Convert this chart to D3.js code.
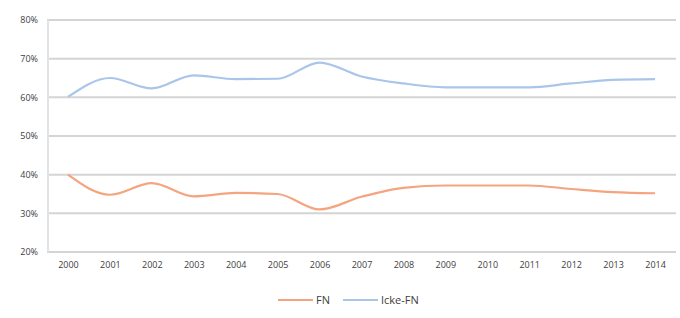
<!DOCTYPE html>
<html>
<head>
<meta charset="utf-8">
<script src="https://cdn.jsdelivr.net/npm/d3@7"></script>
<style>
  body { margin: 0; background: #fff; }
  text { font-family: "Open Sans", "Liberation Sans", sans-serif; }
</style>
</head>
<body>
<div id="chart"></div>
<script>
const years = ["2000","2001","2002","2003","2004","2005","2006","2007","2008","2009","2010","2011","2012","2013","2014"];
const fn = [40.0, 34.8, 37.8, 34.4, 35.3, 35.0, 31.0, 34.3, 36.6, 37.2, 37.2, 37.2, 36.3, 35.5, 35.2];
const ickeFn = [60.1, 65.0, 62.3, 65.7, 64.7, 64.8, 69.0, 65.4, 63.6, 62.6, 62.6, 62.6, 63.6, 64.5, 64.7];
const yTicks = [20, 30, 40, 50, 60, 70, 80];

const width = 680;
const height = 318;
const margin = { top: 20, right: 4, bottom: 66, left: 47 };

const svg = d3.select("#chart")
  .append("svg")
  .attr("width", width)
  .attr("height", height);

const x = d3.scalePoint()
  .domain(years)
  .range([margin.left, width - margin.right])
  .padding(0.5);

const y = d3.scaleLinear()
  .domain([20, 80])
  .range([height - margin.bottom, margin.top]);

// gridlines
svg.append("g")
  .selectAll("line")
  .data(yTicks)
  .enter()
  .append("line")
  .attr("x1", margin.left)
  .attr("x2", width - margin.right)
  .attr("y1", d => y(d))
  .attr("y2", d => y(d))
  .style("stroke", "#d4d4d4")
  .style("stroke-width", 2);

// vertical axis line
svg.append("line")
  .attr("x1", margin.left + 1)
  .attr("x2", margin.left + 1)
  .attr("y1", margin.top)
  .attr("y2", height - margin.bottom)
  .style("stroke", "#dfe4ea")
  .style("stroke-width", 2);

// y labels
const yAxis = svg.append("g")
  .attr("transform", `translate(${margin.left},0)`)
  .call(d3.axisLeft(y).tickValues(yTicks).tickFormat(d => d + "%").tickSize(0).tickPadding(9));
yAxis.select(".domain").remove();
yAxis.selectAll("text")
  .style("font-size", "9px")
  .style("fill", "#404040");

// x labels
const xAxis = svg.append("g")
  .attr("transform", `translate(0,${height - margin.bottom})`)
  .call(d3.axisBottom(x).tickSize(0).tickPadding(10));
xAxis.select(".domain").remove();
xAxis.selectAll("text")
  .style("font-size", "9px")
  .style("fill", "#404040");

const line = d3.line()
  .x((d, i) => x(years[i]))
  .y(d => y(d))
  .curve(d3.curveMonotoneX);

const series = [
  { name: "FN", values: fn, color: "#f4a57f" },
  { name: "Icke-FN", values: ickeFn, color: "#a9c6ea" }
];

svg.selectAll(".series")
  .data(series)
  .enter()
  .append("path")
  .attr("class", "series")
  .attr("d", d => line(d.values))
  .style("fill", "none")
  .style("stroke", d => d.color)
  .style("stroke-width", 2.2);

// legend
const legend = svg.append("g");
const legendItems = [
  { name: "FN", color: "#f4a57f", x: 278 },
  { name: "Icke-FN", color: "#a9c6ea", x: 343 }
];
legendItems.forEach(item => {
  legend.append("line")
    .attr("x1", item.x)
    .attr("x2", item.x + 35)
    .attr("y1", 300)
    .attr("y2", 300)
    .style("stroke", item.color)
    .style("stroke-width", 2.2);
  legend.append("text")
    .attr("x", item.x + 38)
    .attr("y", 304)
    .style("font-size", "11px")
    .style("fill", "#404040")
    .text(item.name);
});
</script>
</body>
</html>
